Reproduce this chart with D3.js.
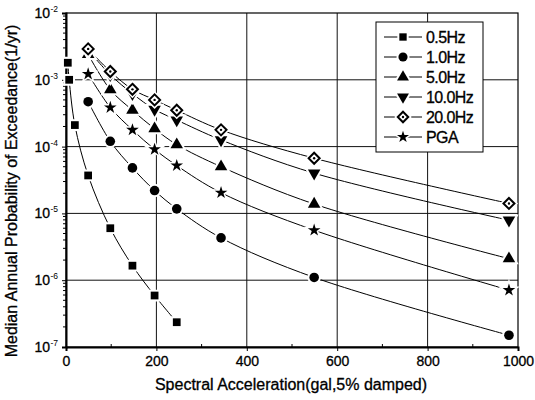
<!DOCTYPE html>
<html><head><meta charset="utf-8">
<script src="https://cdn.jsdelivr.net/npm/d3@7"></script>
<style>
html,body{margin:0;padding:0;background:#fff;}
svg{display:block;font-family:"Liberation Sans",Arial,sans-serif;}
</style></head>
<body><svg id="c" width="535" height="400"></svg>
<script>
// ---- data ----
const xLow = [4, 7, 19.6, 49, 98, 147, 196, 245];          // 0.5Hz abscissae (gal)
const xStd = [49, 98, 147, 196, 245, 343, 549, 980];         // other series abscissae (gal)
const hz05  = [1.8e-3, 1.0e-3, 2.1e-4, 3.7e-5, 6.0e-6, 1.65e-6, 5.9e-7, 2.35e-7];
const hz10  = [4.7e-4, 1.2e-4, 4.8e-5, 2.2e-5, 1.17e-5, 4.3e-6, 1.1e-6, 1.5e-7];
const hz50  = [2.4e-3, 7.1e-4, 3.5e-4, 1.85e-4, 1.07e-4, 5.0e-5, 1.38e-5, 2.1e-6];
const hz100 = [2.8e-3, 1.19e-3, 6.2e-4, 3.6e-4, 2.5e-4, 1.26e-4, 4.0e-5, 7.9e-6];
const hz200 = [2.9e-3, 1.33e-3, 7.2e-4, 5.0e-4, 3.5e-4, 1.78e-4, 6.7e-5, 1.41e-5];
const pga   = [1.22e-3, 3.85e-4, 1.78e-4, 9.1e-5, 5.2e-5, 2.04e-5, 5.6e-6, 7.1e-7];
const seriesNames = ["0.5Hz", "1.0Hz", "5.0Hz", "10.0Hz", "20.0Hz", "PGA"];
const markerTypes = ["square", "circle", "triangle", "triangleDown", "diamond", "star"];
const xTicks = [0, 200, 400, 600, 800, 1000];
const yTickExps = [-7, -6, -5, -4, -3, -2];
const xTitle = "Spectral Acceleration(gal,5% damped)";
const yTitle = "Median Annual Probability of Exceedance(1/yr)";

const series = [
  {name: seriesNames[0], m: markerTypes[0], xs: xLow, ys: hz05},
  {name: seriesNames[1], m: markerTypes[1], xs: xStd, ys: hz10},
  {name: seriesNames[2], m: markerTypes[2], xs: xStd, ys: hz50},
  {name: seriesNames[3], m: markerTypes[3], xs: xStd, ys: hz100},
  {name: seriesNames[4], m: markerTypes[4], xs: xStd, ys: hz200},
  {name: seriesNames[5], m: markerTypes[5], xs: xStd, ys: pga},
];

// ---- layout ----
const L = 66, R = 518, T = 13, B = 347;
const svg = d3.select("#c");
const x = d3.scaleLinear().domain([0, 1000]).range([L, R]);
const y = d3.scaleLog().domain([1e-7, 1e-2]).range([B, T]);

// gridlines
const g = svg.append("g");
g.selectAll("line.vg").data([200, 400, 600, 800]).enter().append("line")
  .attr("x1", d => x(d)).attr("x2", d => x(d)).attr("y1", T).attr("y2", B)
  .attr("stroke", "#111").attr("stroke-width", 1);
g.selectAll("line.hg").data([1e-6, 1e-5, 1e-4, 1e-3]).enter().append("line")
  .attr("x1", L).attr("x2", R).attr("y1", d => y(d)).attr("y2", d => y(d))
  .attr("stroke", "#111").attr("stroke-width", 1);

// frame
svg.append("rect").attr("x", L).attr("y", T).attr("width", R - L).attr("height", B - T)
  .attr("fill", "none").attr("stroke", "#000").attr("stroke-width", 1.2);

// axes
const xAxis = d3.axisBottom(x).tickValues(xTicks).tickSize(4).tickFormat(d3.format("d"));
const xa = svg.append("g").attr("transform", `translate(0,${B})`).call(xAxis);
xa.select(".domain").attr("stroke-width", 2);
xa.selectAll("text").attr("font-size", 14).attr("fill", "#000").attr("dy", "0.85em")
  .attr("stroke", "#000").attr("stroke-width", 0.3);
// x minor ticks
svg.selectAll("line.xm").data([100, 300, 500, 700, 900]).enter().append("line")
  .attr("x1", d => x(d)).attr("x2", d => x(d)).attr("y1", B).attr("y2", B - 3)
  .attr("stroke", "#000");

const yAxis = d3.axisLeft(y).tickValues(yTickExps.map(e => Math.pow(10, e))).tickSize(4).tickFormat("");
const ya = svg.append("g").attr("transform", `translate(${L},0)`).call(yAxis);
ya.select(".domain").attr("stroke-width", 2);
// y minor ticks
const minor = [];
for (let e = -7; e < -2; e++) for (let k = 2; k <= 9; k++) minor.push(k * Math.pow(10, e));
svg.selectAll("line.ym").data(minor).enter().append("line")
  .attr("x1", L - 3).attr("x2", L).attr("y1", d => y(d)).attr("y2", d => y(d))
  .attr("stroke", "#000");
// y tick labels with superscripts
const yl = svg.selectAll("text.yl").data(yTickExps).enter().append("text")
  .attr("x", 50).attr("y", d => y(Math.pow(10, d)) + 5)
  .attr("text-anchor", "end").attr("font-size", 14).attr("fill", "#000")
  .attr("stroke", "#000").attr("stroke-width", 0.3);
yl.text("10");
svg.selectAll("text.ys").data(yTickExps).enter().append("text")
  .attr("x", 50.5).attr("y", d => y(Math.pow(10, d)) - 1)
  .attr("font-size", 8.5).attr("fill", "#000").text(d => String(d));

// titles
svg.append("text").attr("x", 291).attr("y", 390).attr("text-anchor", "middle")
  .attr("font-size", 16).attr("fill", "#000").attr("stroke", "#000").attr("stroke-width", 0.3).text(xTitle);
svg.append("text").attr("transform", "translate(17,191) rotate(-90)").attr("text-anchor", "middle")
  .attr("font-size", 16).attr("fill", "#000").attr("stroke", "#000").attr("stroke-width", 0.3).text(yTitle);

// markers
function drawMarker(sel, type, cx, cy, s) {
  const sc = s || 1;
  const halo = 4;
  if (type === "square") {
    sel.append("path").attr("d", d3.symbol(d3.symbolSquare, 60 * sc)()).attr("transform", `translate(${cx},${cy})`)
      .attr("fill", "#000").attr("stroke", "#fff").attr("stroke-width", halo).attr("paint-order", "stroke");
  } else if (type === "circle") {
    sel.append("circle").attr("cx", cx).attr("cy", cy).attr("r", 4.8 * Math.sqrt(sc))
      .attr("fill", "#000").attr("stroke", "#fff").attr("stroke-width", halo).attr("paint-order", "stroke");
  } else if (type === "triangle") {
    sel.append("path").attr("d", d3.symbol(d3.symbolTriangle, 68 * sc)()).attr("transform", `translate(${cx},${cy})`)
      .attr("fill", "#000").attr("stroke", "#fff").attr("stroke-width", halo).attr("paint-order", "stroke");
  } else if (type === "triangleDown") {
    sel.append("path").attr("d", d3.symbol(d3.symbolTriangle, 68 * sc)()).attr("transform", `translate(${cx},${cy}) rotate(180)`)
      .attr("fill", "#000").attr("stroke", "#fff").attr("stroke-width", halo).attr("paint-order", "stroke");
  } else if (type === "diamond") {
    const r = 5.5 * Math.sqrt(sc);
    const dpath = `M0,${-r}L${r},0L0,${r}L${-r},0Z`;
    sel.append("path").attr("d", dpath).attr("transform", `translate(${cx},${cy})`)
      .attr("fill", "#fff").attr("stroke", "#fff").attr("stroke-width", 5);
    sel.append("path").attr("d", dpath).attr("transform", `translate(${cx},${cy})`)
      .attr("fill", "#fff").attr("stroke", "#000").attr("stroke-width", 2);
    sel.append("circle").attr("cx", cx).attr("cy", cy).attr("r", 1.2).attr("fill", "#000");
  } else if (type === "star") {
    sel.append("path").attr("d", d3.symbol(d3.symbolStar, 50 * sc)()).attr("transform", `translate(${cx},${cy})`)
      .attr("fill", "#000").attr("stroke", "#fff").attr("stroke-width", 3).attr("paint-order", "stroke");
  }
}

const line = d3.line().curve(d3.curveCatmullRom.alpha(0.5));
const lg = svg.append("g");
const mg = svg.append("g");
series.forEach(s => {
  const pts = s.xs.map((v, i) => [x(v), y(s.ys[i])]);
  lg.append("path").attr("d", line(pts)).attr("fill", "none").attr("stroke", "#000").attr("stroke-width", 1);
});
series.forEach(s => {
  s.xs.forEach((v, i) => drawMarker(mg, s.m, x(v), y(s.ys[i])));
});

// legend
const leg = svg.append("g");
leg.append("rect").attr("x", 376).attr("y", 22).attr("width", 107).attr("height", 130)
  .attr("fill", "#fff").attr("stroke", "#000").attr("stroke-width", 1);
series.forEach((s, i) => {
  const cy = 37 + i * 20;
  leg.append("line").attr("x1", 384).attr("x2", 422).attr("y1", cy).attr("y2", cy)
    .attr("stroke", "#000").attr("stroke-width", 1);
  drawMarker(leg, s.m, 403, cy, 0.9);
  leg.append("text").attr("x", 426).attr("y", cy + 5.5).attr("font-size", 16).attr("fill", "#000")
    .attr("stroke", "#000").attr("stroke-width", 0.3)
    .attr("letter-spacing", "-0.6").text(s.name);
});
</script></body></html>
